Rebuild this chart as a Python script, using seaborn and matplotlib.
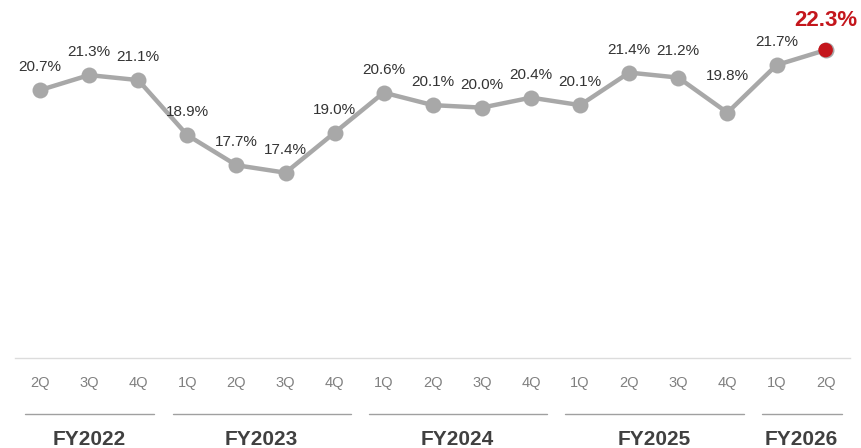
import matplotlib
matplotlib.use("Agg")
import matplotlib.pyplot as plt
import matplotlib.transforms as mtransforms
import seaborn as sns
import pandas as pd

# Quarterly margin (%)
quarters = ["2Q", "3Q", "4Q",
            "1Q", "2Q", "3Q", "4Q",
            "1Q", "2Q", "3Q", "4Q",
            "1Q", "2Q", "3Q", "4Q",
            "1Q", "2Q"]
values = [20.7, 21.3, 21.1,
          18.9, 17.7, 17.4, 19.0,
          20.6, 20.1, 20.0, 20.4,
          20.1, 21.4, 21.2, 19.8,
          21.7, 22.3]
fiscal_years = ["FY2022", "FY2023", "FY2024", "FY2025", "FY2026"]
year_sizes = [3, 4, 4, 4, 2]

sns.set_theme(style="white")
plt.rcParams["font.family"] = ["Liberation Sans", "DejaVu Sans"]

df = pd.DataFrame({"idx": range(len(values)), "value": values})

fig = plt.figure(figsize=(8.61, 4.48), dpi=100)
ax = fig.add_axes([0.0174, 0.201, 0.97, 0.799])

grey = "#a8a8a8"
red = "#c4161c"

sns.lineplot(data=df, x="idx", y="value", ax=ax, color=grey, linewidth=3.2,
             marker="o", markersize=11.5, markeredgewidth=0,
             markerfacecolor=grey, zorder=2)
last = df.iloc[[-1]]
sns.scatterplot(data=last, x="idx", y="value", ax=ax, color=red, s=110,
                edgecolor="none", zorder=3, legend=False)

# value labels
extra = {13: 3, 14: 10, 16: 5}
for i, v in enumerate(values):
    is_last = i == len(values) - 1
    ax.annotate(f"{v:.1f}%", (i, v), xytext=(0, 16.5 + extra.get(i, 0)),
                textcoords="offset points", ha="center", va="center",
                fontsize=16 if is_last else 11,
                fontweight="bold" if is_last else "normal",
                color=red if is_last else "#333333")

ax.set_xlim(-0.51, 16.5)
ax.set_ylim(10.0, 24.3)
ax.set_xticks(range(len(values)))
ax.set_xticklabels(quarters, fontsize=10.5, color="#808080")
ax.tick_params(axis="x", length=0, pad=13)
ax.set_yticks([])
ax.set_xlabel("")
ax.set_ylabel("")
for s in ["left", "right", "top"]:
    ax.spines[s].set_visible(False)
ax.spines["bottom"].set_color("#dcdcdc")
ax.spines["bottom"].set_linewidth(1.0)

# fiscal-year brackets below quarter labels
trans = mtransforms.blended_transform_factory(ax.transData, ax.transAxes)
start = 0
for fy, n in zip(fiscal_years, year_sizes):
    a, b = start, start + n - 1
    ax.plot([a - 0.3, b + 0.33], [-0.156, -0.156], transform=trans,
            color="#a0a0a0", linewidth=1.0, clip_on=False)
    ax.text((a + b) / 2, -0.229, fy, transform=trans, ha="center", va="center",
            fontsize=15, color="#404040", fontweight="bold")
    start += n

fig.savefig("out.png", dpi=100)
